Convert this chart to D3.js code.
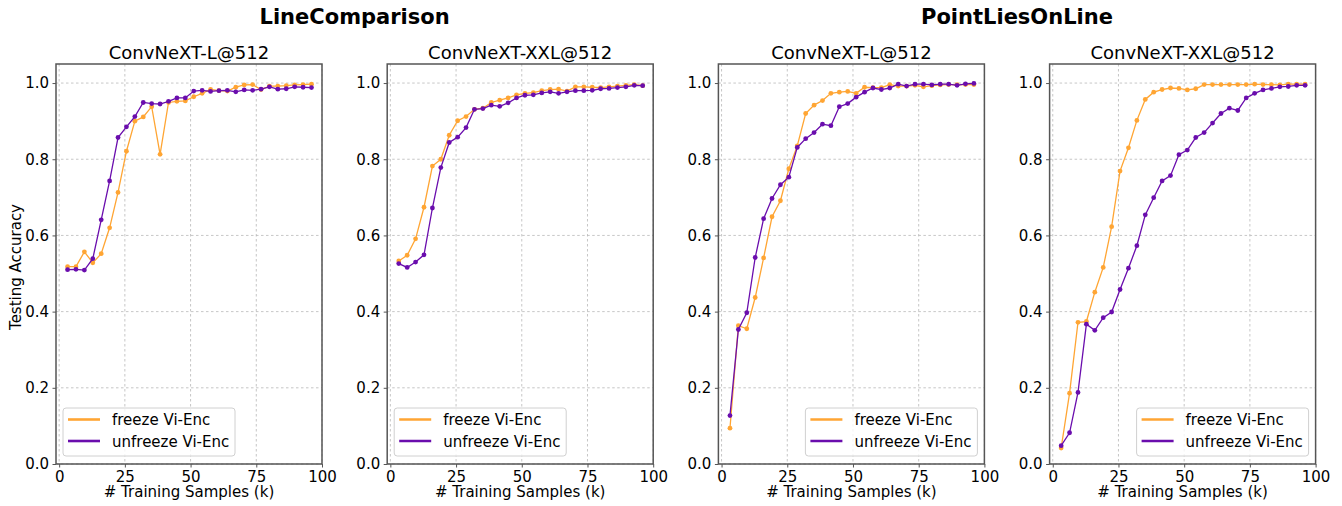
<!DOCTYPE html>
<html>
<head>
<meta charset="utf-8">
<script src="https://cdn.jsdelivr.net/npm/d3@7"></script>
<style>
  html, body { margin: 0; padding: 0; background: #fff; }
  svg { display: block; font-family: "DejaVu Sans", sans-serif; }
</style>
</head>
<body>
<svg id="chart" width="1342" height="506"></svg>
<script>
// ---------------- data ----------------
const samplesK = [3.2, 6.4, 9.6, 12.8, 16.0, 19.2, 22.4, 25.6, 28.8, 32.0,
                  35.2, 38.4, 41.6, 44.8, 48.0, 51.2, 54.4, 57.6, 60.8, 64.0,
                  67.2, 70.4, 73.6, 76.8, 80.0, 83.2, 86.4, 89.6, 92.8, 96.0];

const groupTitles = ["LineComparison", "PointLiesOnLine"];
const panelTitles = ["ConvNeXT-L@512", "ConvNeXT-XXL@512", "ConvNeXT-L@512", "ConvNeXT-XXL@512"];
const seriesNames = ["freeze Vi-Enc", "unfreeze Vi-Enc"];
const xTicks = [0, 25, 50, 75, 100];
const yTicks = [0.0, 0.2, 0.4, 0.6, 0.8, 1.0];
const xLabel = "# Training Samples (k)";
const yLabel = "Testing Accuracy";

const freezeLineL = [0.518, 0.518, 0.557, 0.528, 0.552, 0.620, 0.713, 0.821, 0.900, 0.911,
                     0.938, 0.813, 0.949, 0.952, 0.953, 0.964, 0.973, 0.983, 0.980, 0.979,
                     0.989, 0.995, 0.996, 0.983, 0.992, 0.992, 0.993, 0.995, 0.996, 0.997];
const unfreezeLineL = [0.510, 0.511, 0.509, 0.539, 0.641, 0.743, 0.857, 0.885, 0.912, 0.949,
                       0.946, 0.945, 0.952, 0.961, 0.961, 0.979, 0.981, 0.978, 0.980, 0.981,
                       0.977, 0.982, 0.981, 0.984, 0.990, 0.984, 0.985, 0.990, 0.989, 0.988];

const freezeLineXXL = [0.533, 0.548, 0.591, 0.674, 0.782, 0.800, 0.863, 0.901, 0.912, 0.931,
                       0.934, 0.949, 0.955, 0.961, 0.969, 0.973, 0.975, 0.980, 0.983, 0.984,
                       0.979, 0.990, 0.990, 0.989, 0.988, 0.990, 0.992, 0.994, 0.996, 0.993];
const unfreezeLineXXL = [0.526, 0.516, 0.530, 0.549, 0.672, 0.778, 0.844, 0.858, 0.883, 0.931,
                         0.933, 0.942, 0.939, 0.948, 0.961, 0.968, 0.969, 0.974, 0.977, 0.973,
                         0.977, 0.980, 0.980, 0.981, 0.985, 0.986, 0.988, 0.990, 0.994, 0.993];

const freezePointL = [0.094, 0.363, 0.355, 0.437, 0.541, 0.649, 0.691, 0.775, 0.835, 0.920,
                      0.942, 0.954, 0.973, 0.976, 0.978, 0.973, 0.989, 0.988, 0.988, 0.996,
                      0.992, 0.992, 0.994, 0.990, 0.993, 0.995, 0.996, 0.996, 0.996, 0.996];
const unfreezePointL = [0.127, 0.353, 0.397, 0.542, 0.644, 0.697, 0.733, 0.753, 0.831, 0.854,
                        0.870, 0.892, 0.888, 0.938, 0.946, 0.963, 0.976, 0.987, 0.983, 0.987,
                        0.997, 0.992, 0.997, 0.997, 0.995, 0.997, 0.997, 0.994, 0.998, 0.999];

const freezePointXXL = [0.042, 0.186, 0.372, 0.374, 0.451, 0.516, 0.623, 0.769, 0.830, 0.902,
                        0.957, 0.976, 0.983, 0.987, 0.986, 0.982, 0.985, 0.996, 0.996, 0.996,
                        0.996, 0.996, 0.996, 0.997, 0.996, 0.996, 0.995, 0.997, 0.997, 0.997];
const unfreezePointXXL = [0.048, 0.082, 0.188, 0.367, 0.351, 0.384, 0.399, 0.458, 0.514, 0.573,
                          0.654, 0.699, 0.743, 0.757, 0.812, 0.824, 0.857, 0.870, 0.895, 0.920,
                          0.934, 0.928, 0.961, 0.973, 0.982, 0.986, 0.990, 0.991, 0.994, 0.994];

// ---------------- layout / style ----------------
const colors = ["#FFA533", "#6A0DAD"];
const panels = [
  { title: panelTitles[0], series: [freezeLineL, unfreezeLineL], legend: "left", ylabel: true },
  { title: panelTitles[1], series: [freezeLineXXL, unfreezeLineXXL], legend: "left" },
  { title: panelTitles[2], series: [freezePointL, unfreezePointL], legend: "right" },
  { title: panelTitles[3], series: [freezePointXXL, unfreezePointXXL], legend: "right" }
];
const PW = 266, PT = 64, PB = 464, STEP = 331.2, LEFT0 = 56;

const svg = d3.select("#chart");
svg.append("rect").attr("width", 1342).attr("height", 506).attr("fill", "#fff");

const y = d3.scaleLinear().domain([0, 1.05]).range([PB, PT]);

panels.forEach((p, i) => {
  const L = LEFT0 + i * STEP;
  const x = d3.scaleLinear().domain([-1.2, 100]).range([L, L + PW]);
  const g = svg.append("g");

  // grid
  g.append("g").selectAll("line").data(xTicks).join("line")
    .attr("x1", d => x(d)).attr("x2", d => x(d)).attr("y1", PT).attr("y2", PB)
    .attr("stroke", "#b8b8b8").attr("stroke-width", 0.8).attr("stroke-dasharray", "2.5,2.5");
  g.append("g").selectAll("line").data(yTicks).join("line")
    .attr("x1", L).attr("x2", L + PW).attr("y1", d => y(d)).attr("y2", d => y(d))
    .attr("stroke", "#b8b8b8").attr("stroke-width", 0.8).attr("stroke-dasharray", "2.5,2.5");

  // series
  const line = d3.line().x((d, j) => x(samplesK[j])).y(d => y(d));
  p.series.forEach((s, k) => {
    g.append("path").datum(s).attr("d", line).attr("fill", "none")
      .attr("stroke", colors[k]).attr("stroke-width", 1.3);
    g.append("g").selectAll("circle").data(s).join("circle")
      .attr("cx", (d, j) => x(samplesK[j])).attr("cy", d => y(d)).attr("r", 2.4)
      .attr("fill", colors[k]);
  });

  // axes
  const xAxis = d3.axisBottom(x).tickValues(xTicks).tickSize(3.5).tickPadding(3.5).tickFormat(d3.format("d"));
  const yAxis = d3.axisLeft(y).tickValues(yTicks).tickSize(3.5).tickPadding(3.5).tickFormat(d3.format(".1f"));
  const gx = g.append("g").attr("transform", `translate(0,${PB})`).call(xAxis);
  const gy = g.append("g").attr("transform", `translate(${L},0)`).call(yAxis);
  [gx, gy].forEach(a => {
    a.select(".domain").remove();
    a.selectAll("line").attr("stroke", "#555").attr("stroke-width", 1);
    a.selectAll("text").attr("fill", "#000").style("font-size", "15px").style("font-family", "DejaVu Sans");
  });

  // frame
  g.append("rect").attr("x", L).attr("y", PT).attr("width", PW).attr("height", PB - PT)
    .attr("fill", "none").attr("stroke", "#555").attr("stroke-width", 1.5);

  // titles
  g.append("text").attr("x", L + PW / 2).attr("y", 59).attr("text-anchor", "middle")
    .style("font-size", "18px").text(p.title);
  g.append("text").attr("x", L + PW / 2).attr("y", 497).attr("text-anchor", "middle")
    .style("font-size", "15px").text(xLabel);
  if (p.ylabel) {
    g.append("text").attr("transform", `translate(21,${(PT + PB) / 2 + 3}) rotate(-90)`)
      .attr("text-anchor", "middle").style("font-size", "15px").text(yLabel);
  }

  // legend
  const bw = 172, bh = 48;
  const bx = p.legend === "left" ? L + 7 : L + PW - 7 - bw;
  const by = PB - 8 - bh;
  const lg = g.append("g");
  lg.append("rect").attr("x", bx).attr("y", by).attr("width", bw).attr("height", bh).attr("rx", 3)
    .attr("fill", "#fff").attr("fill-opacity", 0.8).attr("stroke", "#d0d0d0").attr("stroke-width", 1);
  seriesNames.forEach((nm, k) => {
    const ly = by + 11.5 + k * 21.5;
    lg.append("line").attr("x1", bx + 5).attr("x2", bx + 37).attr("y1", ly).attr("y2", ly)
      .attr("stroke", colors[k]).attr("stroke-width", 2.6);
    lg.append("text").attr("x", bx + 49).attr("y", ly + 5.5).style("font-size", "15px").text(nm);
  });
});

// group titles
[[0, 1], [2, 3]].forEach((pair, gi) => {
  const a = LEFT0 + pair[0] * STEP, b = LEFT0 + pair[1] * STEP + PW;
  svg.append("text").attr("x", (a + b) / 2).attr("y", 24).attr("text-anchor", "middle")
    .style("font-size", "21px").style("font-weight", "bold").text(groupTitles[gi]);
});
</script>
</body>
</html>
